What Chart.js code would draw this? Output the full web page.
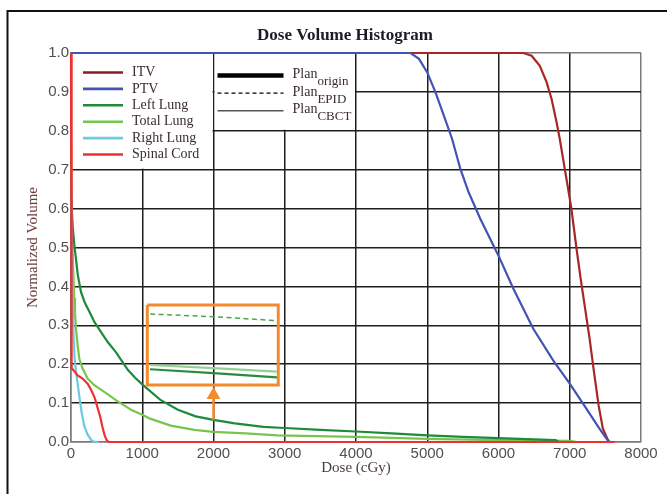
<!DOCTYPE html>
<html>
<head>
<meta charset="utf-8">
<title>Dose Volume Histogram</title>
<script src="https://cdn.jsdelivr.net/npm/chart.js@4/dist/chart.umd.min.js"></script>
<style>
  body { margin: 0; background: #fff; }
</style>
</head>
<body>
<canvas id="dvhChart" width="667" height="494"></canvas>
<script>
// dose in cGy, volume normalized 0..1
const itvDose = [0, 6350, 6465, 6580, 6675, 6745, 6815, 6860, 6930, 6977, 7023, 7093, 7153, 7209, 7279, 7340, 7405, 7465, 7526, 7558];
const itvVol = [1.0, 1.0, 0.993, 0.967, 0.925, 0.882, 0.822, 0.779, 0.702, 0.651, 0.600, 0.500, 0.420, 0.351, 0.265, 0.180, 0.094, 0.034, 0.009, 0];

const ptvDose = [0, 4767, 4884, 5000, 5116, 5233, 5349, 5465, 5581, 5744, 5884, 6000, 6209, 6488, 6767, 7000, 7233, 7419, 7535, 7558];
const ptvVol = [1.0, 1.0, 0.985, 0.950, 0.899, 0.839, 0.779, 0.702, 0.642, 0.574, 0.522, 0.479, 0.394, 0.291, 0.210, 0.150, 0.086, 0.034, 0.004, 0];

const leftLungDose = [0, 10, 25, 45, 70, 95, 140, 190, 260, 330, 420, 515, 630, 700, 800, 900, 1000, 1250, 1500, 1750, 2000, 2300, 2700, 3000, 3500, 4000, 4500, 5000, 5500, 6000, 6500, 6800, 6850];
const leftLungVol = [0.62, 0.60, 0.55, 0.51, 0.47, 0.43, 0.386, 0.36, 0.334, 0.308, 0.283, 0.257, 0.231, 0.212, 0.185, 0.165, 0.148, 0.109, 0.083, 0.066, 0.057, 0.048, 0.039, 0.036, 0.031, 0.027, 0.022, 0.017, 0.013, 0.010, 0.007, 0.005, 0];

const totalLungDose = [0, 15, 30, 45, 56, 70, 93, 117, 163, 233, 327, 467, 650, 850, 1000, 1110, 1400, 1730, 2000, 2450, 2900, 3250, 4000, 5000, 6000, 7000, 7100];
const totalLungVol = [0.77, 0.55, 0.45, 0.37, 0.334, 0.291, 0.249, 0.214, 0.189, 0.163, 0.146, 0.129, 0.105, 0.082, 0.070, 0.060, 0.042, 0.031, 0.026, 0.022, 0.017, 0.016, 0.013, 0.008, 0.005, 0.003, 0];

const rightLungDose = [0, 20, 35, 47, 65, 84, 117, 150, 185, 230, 280, 320, 380];
const rightLungVol = [0.67, 0.40, 0.28, 0.223, 0.19, 0.163, 0.117, 0.075, 0.042, 0.020, 0.006, 0.001, 0];

const spinalDose = [0, 5, 12, 37, 93, 163, 233, 280, 330, 370, 410, 440, 470, 500, 530, 7630];
const spinalVol = [1.0, 0.24, 0.19, 0.184, 0.171, 0.163, 0.150, 0.135, 0.115, 0.090, 0.065, 0.040, 0.018, 0.005, 0, 0];

// zoomed inset (drawn in data coordinates)
const insetBoxDose = [1071, 2909, 2909, 1071, 1071];
const insetBoxVol = [0.352, 0.352, 0.1465, 0.1465, 0.352];
const insetDose = [1110, 2000, 2890];
const insetEpidVol = [0.329, 0.322, 0.312];
const insetCbctVol = [0.198, 0.190, 0.181];
const insetOriginVol = [0.187, 0.177, 0.166];
const arrowDose = [2000, 2000];
const arrowVol = [0.057, 0.11];
const arrowHead = [2000, 0.121];

const structures = ['ITV', 'PTV', 'Left Lung', 'Total Lung', 'Right Lung', 'Spinal Cord'];
const structColors = ['#a82626', '#4353b5', '#1f8a3a', '#78c54e', '#6ccbe0', '#ee3030'];
const legendColors = ['#8e1c1c', '#4353b5', '#1f8a3a', '#78c54e', '#6ccbe0', '#ee3030'];
const planNames = ['origin', 'EPID', 'CBCT'];

function pts(xs, ys) {
  return xs.map((v, i) => ({x: v, y: ys[i]}));
}

function curve(label, xs, ys, color, order) {
  return {
    label: label,
    data: pts(xs, ys),
    borderColor: color,
    borderWidth: 2.2,
    showLine: true,
    pointRadius: 0,
    order: order,
    clip: false
  };
}

const datasets = [
  curve('ITV', itvDose, itvVol, structColors[0], 6),
  curve('Total Lung', totalLungDose, totalLungVol, structColors[3], 5),
  curve('Left Lung', leftLungDose, leftLungVol, structColors[2], 4),
  curve('Right Lung', rightLungDose, rightLungVol, structColors[4], 3),
  curve('PTV', ptvDose, ptvVol, structColors[1], 2),
  curve('Spinal Cord', spinalDose, spinalVol, structColors[5], 1),
  {label: 'inset EPID', data: pts(insetDose, insetEpidVol), borderColor: '#4aa84a', borderWidth: 1.5, borderDash: [5, 3.5], showLine: true, pointRadius: 0, order: 0},
  {label: 'inset CBCT', data: pts(insetDose, insetCbctVol), borderColor: '#94cf94', borderWidth: 2.2, showLine: true, pointRadius: 0, order: 0},
  {label: 'inset origin', data: pts(insetDose, insetOriginVol), borderColor: '#2a8c3c', borderWidth: 2.2, showLine: true, pointRadius: 0, order: 0},
  {label: 'inset box', data: pts(insetBoxDose, insetBoxVol), borderColor: '#f28a2e', borderWidth: 3, borderJoinStyle: 'miter', showLine: true, pointRadius: 0, order: 0},
  {label: 'arrow', data: pts(arrowDose, arrowVol), borderColor: '#f28a2e', borderWidth: 2.5, showLine: true, pointRadius: 0, order: 0},
  {label: 'arrow head', data: [{x: arrowHead[0], y: arrowHead[1]}], pointStyle: 'triangle', pointRadius: 8, backgroundColor: '#f28a2e', borderColor: '#f28a2e', borderWidth: 0, order: 0}
];

function edgeColor(c) {
  const v = c.tick ? c.tick.value : null;
  if (v === 0 || v === 8000 || Math.abs(v - 1) < 1e-6) return '#7a7a7a';
  return '#1e1e1e';
}

const dvhDecor = {
  id: 'dvhDecor',
  beforeDatasetsDraw(chart) {
    const {ctx, scales: {x, y}} = chart;
    ctx.save();
    ctx.fillStyle = '#fff';
    // legend boxes sit on the grid cells
    let x0 = x.getPixelForValue(0), x1 = x.getPixelForValue(2000), x2 = x.getPixelForValue(4000);
    let yTop = y.getPixelForValue(1);
    ctx.fillRect(x0 + 1, yTop + 1, x1 - x0 - 2, y.getPixelForValue(0.7) - yTop - 2);
    ctx.fillRect(x1 + 1, yTop + 1, x2 - x1 - 2, y.getPixelForValue(0.8) - yTop - 2);

    // structure legend
    ctx.textBaseline = 'middle';
    ctx.textAlign = 'left';
    ctx.font = '14px "Liberation Serif"';
    for (let i = 0; i < structures.length; i++) {
      const ly = yTop + 19.5 + i * 16.4;
      ctx.strokeStyle = legendColors[i];
      ctx.lineWidth = 2.6;
      ctx.beginPath();
      ctx.moveTo(x0 + 12, ly);
      ctx.lineTo(x0 + 52, ly);
      ctx.stroke();
      ctx.fillStyle = '#3a2b36';
      ctx.fillText(structures[i], x0 + 61, ly);
    }

    // plan legend
    const widths = [4.5, 1.4, 1.5];
    const dashes = [[], [4, 3], []];
    const lcol = ['#000', '#000', '#555'];
    for (let i = 0; i < planNames.length; i++) {
      const ly = yTop + 22.5 + i * 17.6;
      ctx.strokeStyle = lcol[i];
      ctx.lineWidth = widths[i];
      ctx.setLineDash(dashes[i]);
      ctx.beginPath();
      ctx.moveTo(x1 + 4, ly);
      ctx.lineTo(x1 + 70, ly);
      ctx.stroke();
      ctx.setLineDash([]);
      ctx.fillStyle = '#3a2b36';
      ctx.font = '14px "Liberation Serif"';
      ctx.fillText('Plan', x1 + 79, ly - 1);
      const w = ctx.measureText('Plan').width;
      ctx.font = '13px "Liberation Serif"';
      ctx.fillText(planNames[i], x1 + 79 + w, ly + 6);
    }
    ctx.restore();
  },
  afterDraw(chart) {
    const ctx = chart.ctx;
    ctx.save();
    // outer frame (cropped figure border)
    ctx.strokeStyle = '#111';
    ctx.lineWidth = 2;
    ctx.beginPath();
    ctx.moveTo(7.5, 494);
    ctx.lineTo(7.5, 11);
    ctx.lineTo(667, 11);
    ctx.stroke();
    // title
    ctx.fillStyle = '#1c1a24';
    ctx.font = 'bold 17px "Liberation Serif"';
    ctx.textAlign = 'center';
    ctx.textBaseline = 'middle';
    ctx.fillText('Dose Volume Histogram', 345, 36);
    ctx.restore();
  }
};

new Chart(document.getElementById('dvhChart'), {
  type: 'scatter',
  data: {datasets: datasets},
  options: {
    responsive: false,
    animation: false,
    events: [],
    layout: {padding: {top: 53, right: 26, bottom: 0, left: 8}},
    plugins: {
      legend: {display: false},
      title: {display: false},
      tooltip: {enabled: false}
    },
    scales: {
      x: {
        type: 'linear',
        min: 0,
        max: 8000,
        afterFit(s) { s.height = 52; },
        ticks: {stepSize: 1000, padding: 3, color: '#505050', font: {family: '"Liberation Sans"', size: 15}, callback: v => String(v)},
        grid: {color: edgeColor, lineWidth: 1.5, drawTicks: false},
        border: {color: '#7a7a7a', width: 1.5},
        title: {display: true, text: 'Dose (cGy)', color: '#4a3d3d', font: {family: '"Liberation Serif"', size: 15}, padding: {top: 0, bottom: 17}}
      },
      y: {
        type: 'linear',
        min: 0,
        max: 1,
        afterFit(s) { s.width = 63; },
        ticks: {stepSize: 0.1, padding: 2, color: '#505050', font: {family: '"Liberation Sans"', size: 15}, callback: v => v.toFixed(1)},
        grid: {color: edgeColor, lineWidth: 1.5, drawTicks: false},
        border: {color: '#7a7a7a', width: 1.5},
        title: {display: true, text: 'Normalized Volume', color: '#6e3a3a', font: {family: '"Liberation Serif"', size: 15}, padding: {top: 16, bottom: 0}}
      }
    }
  },
  plugins: [dvhDecor]
});
</script>
</body>
</html>
